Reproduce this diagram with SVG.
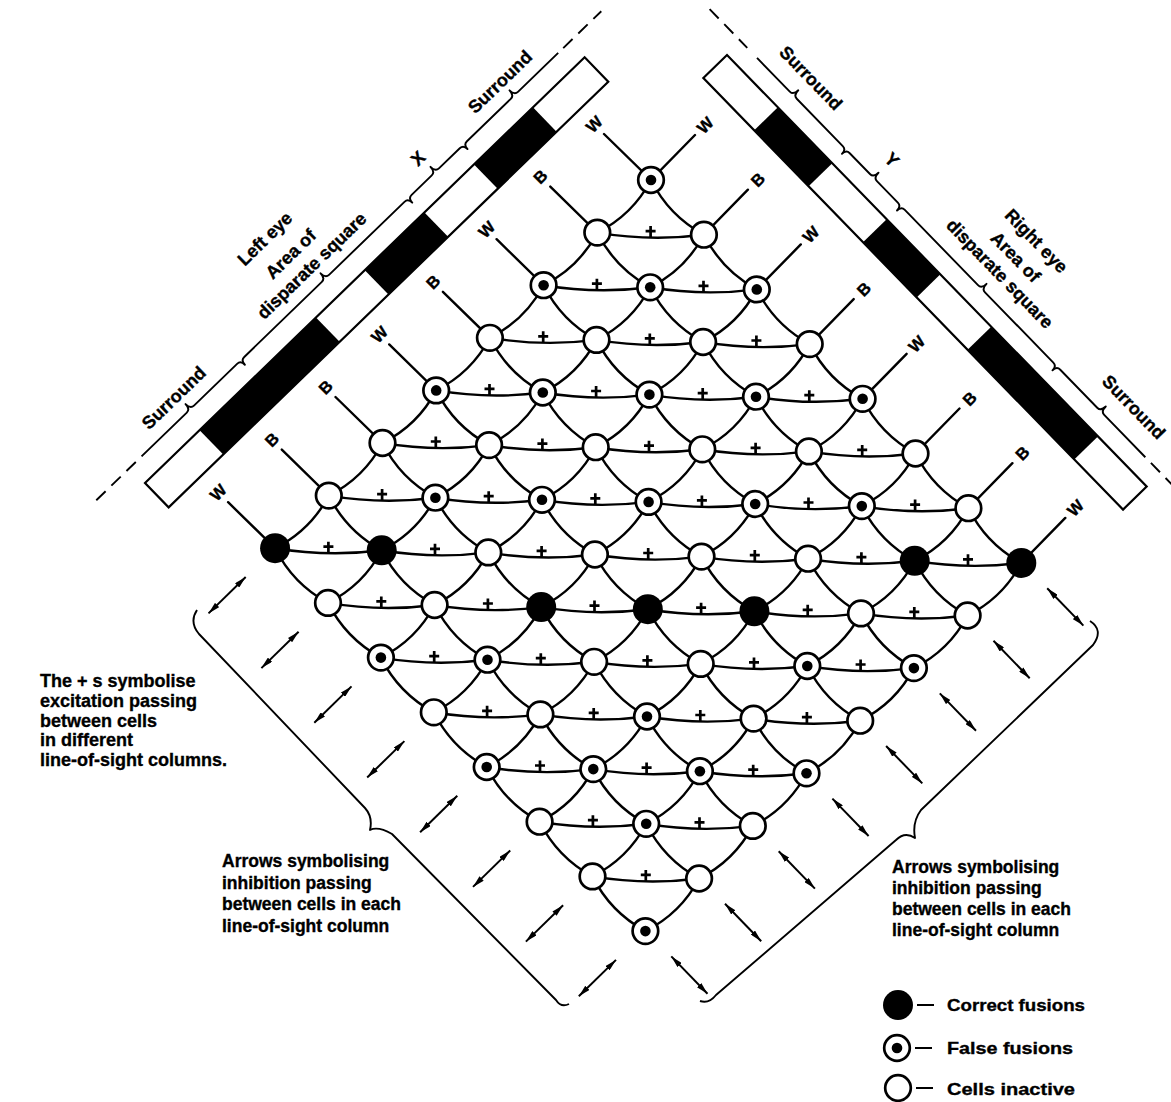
<svg xmlns="http://www.w3.org/2000/svg" xmlns:xlink="http://www.w3.org/1999/xlink" width="1171" height="1102" viewBox="0 0 1171 1102">
<style>
  text{font-family:"Liberation Sans",Arial,Helvetica,sans-serif;font-weight:bold;fill:#000;stroke:#000;stroke-width:0.35}
  .lbl{font-size:16.5px;text-anchor:middle}
  .ann{font-size:18px;text-anchor:middle}
  .note{font-size:17.5px}
  .side{font-size:18px}
  .leg{font-size:16.5px}
  .wire{fill:none;stroke:#000;stroke-width:2.4;stroke-linecap:round}
  .lead{fill:none;stroke:#000;stroke-width:2}
  .ring{fill:#fff;stroke:#000;stroke-width:2.7}
  .dot,.solid{fill:#000}
  .strip{fill:#fff;stroke:#000;stroke-width:2.2}
  .brace{fill:none;stroke:#000;stroke-width:1.9;stroke-linejoin:round}
  .dash{fill:none;stroke:#000;stroke-width:1.9;stroke-dasharray:13 8}
  .arrow{fill:none;stroke:#000;stroke-width:2;marker-start:url(#head);marker-end:url(#head)}
  .plus{fill:none;stroke:#000;stroke-width:2.7}
</style>
<defs>
  <marker id="head" viewBox="0 0 12 6" refX="12" refY="3" markerWidth="12" markerHeight="6" markerUnits="userSpaceOnUse" orient="auto-start-reverse">
    <path d="M0,0 L12,3 L0,6 z"/>
  </marker>
  <!-- excitatory link marker: a cross standing on the link -->
  <path id="plus" class="plus" d="M-5,-6.5 h10 M0,-11.5 V0"/>
</defs>
<rect width="1171" height="1102" fill="#fff"/>

<!-- left eye image strip with braces -->
<g id="left-eye" transform="translate(145,483) rotate(-44.08)">
  <rect class="strip" x="0" y="0" width="612" height="34"/>
  <rect class="solid" x="76" y="0" width="162" height="34"/>
  <rect class="solid" x="306" y="0" width="83" height="34"/>
  <rect class="solid" x="458" y="0" width="82" height="34"/>
  <path class="dash" d="M-47,-21.5 H14 M603,-21.5 H656"/>
  <path class="brace" d="M16,-21.5 L79,-21.5 Q84,-21.5 84,-28.5 Q84,-21.5 89,-21.5 L149,-21.5 Q154,-21.5 154,-15.5 Q154,-21.5 159,-21.5 L267,-21.5 Q272,-21.5 272,-28.5 Q272,-21.5 277,-21.5 L382,-21.5 Q387,-21.5 387,-15.5 Q387,-21.5 392,-21.5 L420,-21.5 Q425,-21.5 425,-28.5 Q425,-21.5 430,-21.5 L459,-21.5 Q464,-21.5 464,-15.5 Q464,-21.5 469,-21.5 L530,-21.5 Q535,-21.5 535,-28.5 Q535,-21.5 540,-21.5 L596,-21.5"/>
  <text class="ann" x="80" y="-35">Surround</text>
  <text class="ann" x="256" y="-86">Left eye</text>
  <text class="ann" x="264" y="-57">Area of</text>
  <text class="ann" x="271" y="-34">disparate square</text>
  <text class="ann" x="422" y="-37">X</text>
  <text class="ann" x="534" y="-35">Surround</text>
</g>

<!-- right eye image strip with braces -->
<g id="right-eye" transform="translate(727,55) rotate(45.8)">
  <rect class="strip" x="0" y="0" width="602" height="33"/>
  <rect class="solid" x="73" y="0" width="78" height="33"/>
  <rect class="solid" x="229" y="0" width="77" height="33"/>
  <rect class="solid" x="379" y="0" width="153" height="33"/>
  <path class="dash" d="M-45,-19.5 H9 M588,-19.5 H640"/>
  <path class="brace" d="M23,-19.5 L70,-19.5 Q75,-19.5 75,-26.5 Q75,-19.5 80,-19.5 L146,-19.5 Q151,-19.5 151,-13.5 Q151,-19.5 156,-19.5 L185,-19.5 Q190,-19.5 190,-26.5 Q190,-19.5 195,-19.5 L225,-19.5 Q230,-19.5 230,-13.5 Q230,-19.5 235,-19.5 L340,-19.5 Q345,-19.5 345,-26.5 Q345,-19.5 350,-19.5 L448,-19.5 Q453,-19.5 453,-13.5 Q453,-19.5 458,-19.5 L511,-19.5 Q516,-19.5 516,-26.5 Q516,-19.5 521,-19.5 L580,-19.5"/>
  <text class="ann" x="75" y="-38">Surround</text>
  <text class="ann" x="190" y="-39">Y</text>
  <text class="ann" x="349" y="-86">Right eye</text>
  <text class="ann" x="346" y="-60">Area of</text>
  <text class="ann" x="347" y="-37">disparate square</text>
  <text class="ann" x="536" y="-40">Surround</text>
</g>

<!-- W / B labels of the line-of-sight columns -->
<g id="column-labels">
  <text class="lbl" x="218.1" y="492.2" dy=".36em" transform="rotate(-45 218.1 492.2)">W</text>
  <text class="lbl" x="271.8" y="439.6" dy=".36em" transform="rotate(-45 271.8 439.6)">B</text>
  <text class="lbl" x="325.5" y="387" dy=".36em" transform="rotate(-45 325.5 387)">B</text>
  <text class="lbl" x="379.2" y="334.4" dy=".36em" transform="rotate(-45 379.2 334.4)">W</text>
  <text class="lbl" x="432.9" y="281.8" dy=".36em" transform="rotate(-45 432.9 281.8)">B</text>
  <text class="lbl" x="486.6" y="229.2" dy=".36em" transform="rotate(-45 486.6 229.2)">W</text>
  <text class="lbl" x="540.3" y="176.6" dy=".36em" transform="rotate(-45 540.3 176.6)">B</text>
  <text class="lbl" x="594" y="124" dy=".36em" transform="rotate(-45 594 124)">W</text>
  <text class="lbl" x="705" y="125" dy=".36em" transform="rotate(-45 705 125)">W</text>
  <text class="lbl" x="757.9" y="179.7" dy=".36em" transform="rotate(-45 757.9 179.7)">B</text>
  <text class="lbl" x="810.8" y="234.4" dy=".36em" transform="rotate(-45 810.8 234.4)">W</text>
  <text class="lbl" x="863.7" y="289.1" dy=".36em" transform="rotate(-45 863.7 289.1)">B</text>
  <text class="lbl" x="916.6" y="343.8" dy=".36em" transform="rotate(-45 916.6 343.8)">W</text>
  <text class="lbl" x="969.5" y="398.5" dy=".36em" transform="rotate(-45 969.5 398.5)">B</text>
  <text class="lbl" x="1022.4" y="453.2" dy=".36em" transform="rotate(-45 1022.4 453.2)">B</text>
  <text class="lbl" x="1075.3" y="507.9" dy=".36em" transform="rotate(-45 1075.3 507.9)">W</text>
</g>

<!-- connectors: line-of-sight columns and excitatory links -->
<g id="connectors">
  <!-- left-eye columns -->
  <path class="wire" d="M228.1,502.2 L275.1,548.2 q17.85,35.65 52.9,54.7 q17.85,35.65 52.9,54.7 q17.85,35.65 52.9,54.7 q17.85,35.65 52.9,54.7 q17.85,35.65 52.9,54.7 q17.85,35.65 52.9,54.7 q17.85,35.65 52.9,54.7"/>
  <path class="wire" d="M281.8,449.6 L328.8,495.6 q17.85,35.65 52.9,54.7 q17.85,35.65 52.9,54.7 q17.85,35.65 52.9,54.7 q17.85,35.65 52.9,54.7 q17.85,35.65 52.9,54.7 q17.85,35.65 52.9,54.7 q17.85,35.65 52.9,54.7"/>
  <path class="wire" d="M335.5,397 L382.5,443 q17.85,35.65 52.9,54.7 q17.85,35.65 52.9,54.7 q17.85,35.65 52.9,54.7 q17.85,35.65 52.9,54.7 q17.85,35.65 52.9,54.7 q17.85,35.65 52.9,54.7 q17.85,35.65 52.9,54.7"/>
  <path class="wire" d="M389.2,344.4 L436.2,390.4 q17.85,35.65 52.9,54.7 q17.85,35.65 52.9,54.7 q17.85,35.65 52.9,54.7 q17.85,35.65 52.9,54.7 q17.85,35.65 52.9,54.7 q17.85,35.65 52.9,54.7 q17.85,35.65 52.9,54.7"/>
  <path class="wire" d="M442.9,291.8 L489.9,337.8 q17.85,35.65 52.9,54.7 q17.85,35.65 52.9,54.7 q17.85,35.65 52.9,54.7 q17.85,35.65 52.9,54.7 q17.85,35.65 52.9,54.7 q17.85,35.65 52.9,54.7 q17.85,35.65 52.9,54.7"/>
  <path class="wire" d="M496.6,239.2 L543.6,285.2 q17.85,35.65 52.9,54.7 q17.85,35.65 52.9,54.7 q17.85,35.65 52.9,54.7 q17.85,35.65 52.9,54.7 q17.85,35.65 52.9,54.7 q17.85,35.65 52.9,54.7 q17.85,35.65 52.9,54.7"/>
  <path class="wire" d="M550.3,186.6 L597.3,232.6 q17.85,35.65 52.9,54.7 q17.85,35.65 52.9,54.7 q17.85,35.65 52.9,54.7 q17.85,35.65 52.9,54.7 q17.85,35.65 52.9,54.7 q17.85,35.65 52.9,54.7 q17.85,35.65 52.9,54.7"/>
  <path class="wire" d="M604,134 L651,180 q17.85,35.65 52.9,54.7 q17.85,35.65 52.9,54.7 q17.85,35.65 52.9,54.7 q17.85,35.65 52.9,54.7 q17.85,35.65 52.9,54.7 q17.85,35.65 52.9,54.7 q17.85,35.65 52.9,54.7"/>
  <!-- right-eye columns -->
  <path class="wire" d="M695,135 L651,180 q-18.45,34.9 -53.7,52.6 q-18.45,34.9 -53.7,52.6 q-18.45,34.9 -53.7,52.6 q-18.45,34.9 -53.7,52.6 q-18.45,34.9 -53.7,52.6 q-18.45,34.9 -53.7,52.6 q-18.45,34.9 -53.7,52.6"/>
  <path class="wire" d="M747.9,189.7 L703.9,234.7 q-18.45,34.9 -53.7,52.6 q-18.45,34.9 -53.7,52.6 q-18.45,34.9 -53.7,52.6 q-18.45,34.9 -53.7,52.6 q-18.45,34.9 -53.7,52.6 q-18.45,34.9 -53.7,52.6 q-18.45,34.9 -53.7,52.6"/>
  <path class="wire" d="M800.8,244.4 L756.8,289.4 q-18.45,34.9 -53.7,52.6 q-18.45,34.9 -53.7,52.6 q-18.45,34.9 -53.7,52.6 q-18.45,34.9 -53.7,52.6 q-18.45,34.9 -53.7,52.6 q-18.45,34.9 -53.7,52.6 q-18.45,34.9 -53.7,52.6"/>
  <path class="wire" d="M853.7,299.1 L809.7,344.1 q-18.45,34.9 -53.7,52.6 q-18.45,34.9 -53.7,52.6 q-18.45,34.9 -53.7,52.6 q-18.45,34.9 -53.7,52.6 q-18.45,34.9 -53.7,52.6 q-18.45,34.9 -53.7,52.6 q-18.45,34.9 -53.7,52.6"/>
  <path class="wire" d="M906.6,353.8 L862.6,398.8 q-18.45,34.9 -53.7,52.6 q-18.45,34.9 -53.7,52.6 q-18.45,34.9 -53.7,52.6 q-18.45,34.9 -53.7,52.6 q-18.45,34.9 -53.7,52.6 q-18.45,34.9 -53.7,52.6 q-18.45,34.9 -53.7,52.6"/>
  <path class="wire" d="M959.5,408.5 L915.5,453.5 q-18.45,34.9 -53.7,52.6 q-18.45,34.9 -53.7,52.6 q-18.45,34.9 -53.7,52.6 q-18.45,34.9 -53.7,52.6 q-18.45,34.9 -53.7,52.6 q-18.45,34.9 -53.7,52.6 q-18.45,34.9 -53.7,52.6"/>
  <path class="wire" d="M1012.4,463.2 L968.4,508.2 q-18.45,34.9 -53.7,52.6 q-18.45,34.9 -53.7,52.6 q-18.45,34.9 -53.7,52.6 q-18.45,34.9 -53.7,52.6 q-18.45,34.9 -53.7,52.6 q-18.45,34.9 -53.7,52.6 q-18.45,34.9 -53.7,52.6"/>
  <path class="wire" d="M1065.3,517.9 L1021.3,562.9 q-18.45,34.9 -53.7,52.6 q-18.45,34.9 -53.7,52.6 q-18.45,34.9 -53.7,52.6 q-18.45,34.9 -53.7,52.6 q-18.45,34.9 -53.7,52.6 q-18.45,34.9 -53.7,52.6 q-18.45,34.9 -53.7,52.6"/>
  <!-- excitatory links between neighbouring cells of one disparity row -->
  <path class="wire" d="M597.3,232.6 q53.3,9.05 106.6,2.1"/>
  <path class="wire" d="M543.6,285.2 q53.3,9.05 106.6,2.1 q53.3,9.05 106.6,2.1"/>
  <path class="wire" d="M489.9,337.8 q53.3,9.05 106.6,2.1 q53.3,9.05 106.6,2.1 q53.3,9.05 106.6,2.1"/>
  <path class="wire" d="M436.2,390.4 q53.3,9.05 106.6,2.1 q53.3,9.05 106.6,2.1 q53.3,9.05 106.6,2.1 q53.3,9.05 106.6,2.1"/>
  <path class="wire" d="M382.5,443 q53.3,9.05 106.6,2.1 q53.3,9.05 106.6,2.1 q53.3,9.05 106.6,2.1 q53.3,9.05 106.6,2.1 q53.3,9.05 106.6,2.1"/>
  <path class="wire" d="M328.8,495.6 q53.3,9.05 106.6,2.1 q53.3,9.05 106.6,2.1 q53.3,9.05 106.6,2.1 q53.3,9.05 106.6,2.1 q53.3,9.05 106.6,2.1 q53.3,9.05 106.6,2.1"/>
  <path class="wire" d="M275.1,548.2 q53.3,9.05 106.6,2.1 q53.3,9.05 106.6,2.1 q53.3,9.05 106.6,2.1 q53.3,9.05 106.6,2.1 q53.3,9.05 106.6,2.1 q53.3,9.05 106.6,2.1 q53.3,9.05 106.6,2.1"/>
  <path class="wire" d="M328,602.9 q53.3,9.05 106.6,2.1 q53.3,9.05 106.6,2.1 q53.3,9.05 106.6,2.1 q53.3,9.05 106.6,2.1 q53.3,9.05 106.6,2.1 q53.3,9.05 106.6,2.1"/>
  <path class="wire" d="M380.9,657.6 q53.3,9.05 106.6,2.1 q53.3,9.05 106.6,2.1 q53.3,9.05 106.6,2.1 q53.3,9.05 106.6,2.1 q53.3,9.05 106.6,2.1"/>
  <path class="wire" d="M433.8,712.3 q53.3,9.05 106.6,2.1 q53.3,9.05 106.6,2.1 q53.3,9.05 106.6,2.1 q53.3,9.05 106.6,2.1"/>
  <path class="wire" d="M486.7,767 q53.3,9.05 106.6,2.1 q53.3,9.05 106.6,2.1 q53.3,9.05 106.6,2.1"/>
  <path class="wire" d="M539.6,821.7 q53.3,9.05 106.6,2.1 q53.3,9.05 106.6,2.1"/>
  <path class="wire" d="M592.5,876.4 q53.3,9.05 106.6,2.1"/>
</g>

<!-- excitation signs on the links -->
<g id="excitation-signs">
  <use href="#plus" x="650.6" y="237.6"/>
  <use href="#plus" x="596.9" y="290.2"/><use href="#plus" x="703.5" y="292.3"/>
  <use href="#plus" x="543.2" y="342.8"/><use href="#plus" x="649.8" y="344.9"/><use href="#plus" x="756.4" y="347"/>
  <use href="#plus" x="489.5" y="395.4"/><use href="#plus" x="596.1" y="397.5"/><use href="#plus" x="702.7" y="399.6"/><use href="#plus" x="809.3" y="401.7"/>
  <use href="#plus" x="435.8" y="448"/><use href="#plus" x="542.4" y="450.1"/><use href="#plus" x="649" y="452.2"/><use href="#plus" x="755.6" y="454.3"/><use href="#plus" x="862.2" y="456.4"/>
  <use href="#plus" x="382.1" y="500.6"/><use href="#plus" x="488.7" y="502.7"/><use href="#plus" x="595.3" y="504.8"/><use href="#plus" x="701.9" y="506.9"/><use href="#plus" x="808.5" y="509"/><use href="#plus" x="915.1" y="511.1"/>
  <use href="#plus" x="328.4" y="553.2"/><use href="#plus" x="435" y="555.3"/><use href="#plus" x="541.6" y="557.4"/><use href="#plus" x="648.2" y="559.5"/><use href="#plus" x="754.8" y="561.6"/><use href="#plus" x="861.4" y="563.7"/><use href="#plus" x="968" y="565.8"/>
  <use href="#plus" x="381.3" y="607.9"/><use href="#plus" x="487.9" y="610"/><use href="#plus" x="594.5" y="612.1"/><use href="#plus" x="701.1" y="614.2"/><use href="#plus" x="807.7" y="616.3"/><use href="#plus" x="914.3" y="618.4"/>
  <use href="#plus" x="434.2" y="662.6"/><use href="#plus" x="540.8" y="664.7"/><use href="#plus" x="647.4" y="666.8"/><use href="#plus" x="754" y="668.9"/><use href="#plus" x="860.6" y="671"/>
  <use href="#plus" x="487.1" y="717.3"/><use href="#plus" x="593.7" y="719.4"/><use href="#plus" x="700.3" y="721.5"/><use href="#plus" x="806.9" y="723.6"/>
  <use href="#plus" x="540" y="772"/><use href="#plus" x="646.6" y="774.1"/><use href="#plus" x="753.2" y="776.2"/>
  <use href="#plus" x="592.9" y="826.7"/><use href="#plus" x="699.5" y="828.8"/>
  <use href="#plus" x="645.8" y="881.4"/>
</g>

<!-- cells: cell-i-j = left column i, right column j -->
<g id="cells">
  <g id="cell-0-0"><circle class="solid" cx="275.1" cy="548.2" r="15"/></g>
  <g id="cell-0-1"><circle class="ring" cx="328" cy="602.9" r="12.8"/></g>
  <g id="cell-0-2"><circle class="ring" cx="380.9" cy="657.6" r="12.8"/><circle class="dot" cx="380.9" cy="657.6" r="5.3"/></g>
  <g id="cell-0-3"><circle class="ring" cx="433.8" cy="712.3" r="12.8"/></g>
  <g id="cell-0-4"><circle class="ring" cx="486.7" cy="767" r="12.8"/><circle class="dot" cx="486.7" cy="767" r="5.3"/></g>
  <g id="cell-0-5"><circle class="ring" cx="539.6" cy="821.7" r="12.8"/></g>
  <g id="cell-0-6"><circle class="ring" cx="592.5" cy="876.4" r="12.8"/></g>
  <g id="cell-0-7"><circle class="ring" cx="645.4" cy="931.1" r="12.8"/><circle class="dot" cx="645.4" cy="931.1" r="5.3"/></g>

  <g id="cell-1-0"><circle class="ring" cx="328.8" cy="495.6" r="12.8"/></g>
  <g id="cell-1-1"><circle class="solid" cx="381.7" cy="550.3" r="15"/></g>
  <g id="cell-1-2"><circle class="ring" cx="434.6" cy="605" r="12.8"/></g>
  <g id="cell-1-3"><circle class="ring" cx="487.5" cy="659.7" r="12.8"/><circle class="dot" cx="487.5" cy="659.7" r="5.3"/></g>
  <g id="cell-1-4"><circle class="ring" cx="540.4" cy="714.4" r="12.8"/></g>
  <g id="cell-1-5"><circle class="ring" cx="593.3" cy="769.1" r="12.8"/><circle class="dot" cx="593.3" cy="769.1" r="5.3"/></g>
  <g id="cell-1-6"><circle class="ring" cx="646.2" cy="823.8" r="12.8"/><circle class="dot" cx="646.2" cy="823.8" r="5.3"/></g>
  <g id="cell-1-7"><circle class="ring" cx="699.1" cy="878.5" r="12.8"/></g>

  <g id="cell-2-0"><circle class="ring" cx="382.5" cy="443" r="12.8"/></g>
  <g id="cell-2-1"><circle class="ring" cx="435.4" cy="497.7" r="12.8"/><circle class="dot" cx="435.4" cy="497.7" r="5.3"/></g>
  <g id="cell-2-2"><circle class="ring" cx="488.3" cy="552.4" r="12.8"/></g>
  <g id="cell-2-3"><circle class="solid" cx="541.2" cy="607.1" r="15"/></g>
  <g id="cell-2-4"><circle class="ring" cx="594.1" cy="661.8" r="12.8"/></g>
  <g id="cell-2-5"><circle class="ring" cx="647" cy="716.5" r="12.8"/><circle class="dot" cx="647" cy="716.5" r="5.3"/></g>
  <g id="cell-2-6"><circle class="ring" cx="699.9" cy="771.2" r="12.8"/><circle class="dot" cx="699.9" cy="771.2" r="5.3"/></g>
  <g id="cell-2-7"><circle class="ring" cx="752.8" cy="825.9" r="12.8"/></g>

  <g id="cell-3-0"><circle class="ring" cx="436.2" cy="390.4" r="12.8"/><circle class="dot" cx="436.2" cy="390.4" r="5.3"/></g>
  <g id="cell-3-1"><circle class="ring" cx="489.1" cy="445.1" r="12.8"/></g>
  <g id="cell-3-2"><circle class="ring" cx="542" cy="499.8" r="12.8"/><circle class="dot" cx="542" cy="499.8" r="5.3"/></g>
  <g id="cell-3-3"><circle class="ring" cx="594.9" cy="554.5" r="12.8"/></g>
  <g id="cell-3-4"><circle class="solid" cx="647.8" cy="609.2" r="15"/></g>
  <g id="cell-3-5"><circle class="ring" cx="700.7" cy="663.9" r="12.8"/></g>
  <g id="cell-3-6"><circle class="ring" cx="753.6" cy="718.6" r="12.8"/></g>
  <g id="cell-3-7"><circle class="ring" cx="806.5" cy="773.3" r="12.8"/><circle class="dot" cx="806.5" cy="773.3" r="5.3"/></g>

  <g id="cell-4-0"><circle class="ring" cx="489.9" cy="337.8" r="12.8"/></g>
  <g id="cell-4-1"><circle class="ring" cx="542.8" cy="392.5" r="12.8"/><circle class="dot" cx="542.8" cy="392.5" r="5.3"/></g>
  <g id="cell-4-2"><circle class="ring" cx="595.7" cy="447.2" r="12.8"/></g>
  <g id="cell-4-3"><circle class="ring" cx="648.6" cy="501.9" r="12.8"/><circle class="dot" cx="648.6" cy="501.9" r="5.3"/></g>
  <g id="cell-4-4"><circle class="ring" cx="701.5" cy="556.6" r="12.8"/></g>
  <g id="cell-4-5"><circle class="solid" cx="754.4" cy="611.3" r="15"/></g>
  <g id="cell-4-6"><circle class="ring" cx="807.3" cy="666" r="12.8"/><circle class="dot" cx="807.3" cy="666" r="5.3"/></g>
  <g id="cell-4-7"><circle class="ring" cx="860.2" cy="720.7" r="12.8"/></g>

  <g id="cell-5-0"><circle class="ring" cx="543.6" cy="285.2" r="12.8"/><circle class="dot" cx="543.6" cy="285.2" r="5.3"/></g>
  <g id="cell-5-1"><circle class="ring" cx="596.5" cy="339.9" r="12.8"/></g>
  <g id="cell-5-2"><circle class="ring" cx="649.4" cy="394.6" r="12.8"/><circle class="dot" cx="649.4" cy="394.6" r="5.3"/></g>
  <g id="cell-5-3"><circle class="ring" cx="702.3" cy="449.3" r="12.8"/></g>
  <g id="cell-5-4"><circle class="ring" cx="755.2" cy="504" r="12.8"/><circle class="dot" cx="755.2" cy="504" r="5.3"/></g>
  <g id="cell-5-5"><circle class="ring" cx="808.1" cy="558.7" r="12.8"/></g>
  <g id="cell-5-6"><circle class="ring" cx="861" cy="613.4" r="12.8"/></g>
  <g id="cell-5-7"><circle class="ring" cx="913.9" cy="668.1" r="12.8"/><circle class="dot" cx="913.9" cy="668.1" r="5.3"/></g>

  <g id="cell-6-0"><circle class="ring" cx="597.3" cy="232.6" r="12.8"/></g>
  <g id="cell-6-1"><circle class="ring" cx="650.2" cy="287.3" r="12.8"/><circle class="dot" cx="650.2" cy="287.3" r="5.3"/></g>
  <g id="cell-6-2"><circle class="ring" cx="703.1" cy="342" r="12.8"/></g>
  <g id="cell-6-3"><circle class="ring" cx="756" cy="396.7" r="12.8"/><circle class="dot" cx="756" cy="396.7" r="5.3"/></g>
  <g id="cell-6-4"><circle class="ring" cx="808.9" cy="451.4" r="12.8"/></g>
  <g id="cell-6-5"><circle class="ring" cx="861.8" cy="506.1" r="12.8"/><circle class="dot" cx="861.8" cy="506.1" r="5.3"/></g>
  <g id="cell-6-6"><circle class="solid" cx="914.7" cy="560.8" r="15"/></g>
  <g id="cell-6-7"><circle class="ring" cx="967.6" cy="615.5" r="12.8"/></g>

  <g id="cell-7-0"><circle class="ring" cx="651" cy="180" r="12.8"/><circle class="dot" cx="651" cy="180" r="5.3"/></g>
  <g id="cell-7-1"><circle class="ring" cx="703.9" cy="234.7" r="12.8"/></g>
  <g id="cell-7-2"><circle class="ring" cx="756.8" cy="289.4" r="12.8"/><circle class="dot" cx="756.8" cy="289.4" r="5.3"/></g>
  <g id="cell-7-3"><circle class="ring" cx="809.7" cy="344.1" r="12.8"/></g>
  <g id="cell-7-4"><circle class="ring" cx="862.6" cy="398.8" r="12.8"/><circle class="dot" cx="862.6" cy="398.8" r="5.3"/></g>
  <g id="cell-7-5"><circle class="ring" cx="915.5" cy="453.5" r="12.8"/></g>
  <g id="cell-7-6"><circle class="ring" cx="968.4" cy="508.2" r="12.8"/></g>
  <g id="cell-7-7"><circle class="solid" cx="1021.3" cy="562.9" r="15"/></g>
</g>

<!-- inhibition arrows along each column -->
<g id="inhibition-arrows">
  <path class="arrow" d="M245.7,577 L208.5,613.4"/>
  <path class="arrow" d="M298.6,631.7 L261.4,668.1"/>
  <path class="arrow" d="M351.5,686.4 L314.3,722.8"/>
  <path class="arrow" d="M404.4,741.1 L367.2,777.5"/>
  <path class="arrow" d="M457.3,795.8 L420.1,832.2"/>
  <path class="arrow" d="M510.2,850.5 L473,886.9"/>
  <path class="arrow" d="M563.1,905.2 L525.9,941.6"/>
  <path class="arrow" d="M616,959.9 L578.8,996.3"/>
  <path class="arrow" d="M1047.2,588.2 L1083.4,625.6"/>
  <path class="arrow" d="M993.5,640.8 L1029.7,678.2"/>
  <path class="arrow" d="M939.8,693.4 L976,730.8"/>
  <path class="arrow" d="M886.1,746 L922.3,783.4"/>
  <path class="arrow" d="M832.4,798.6 L868.6,836"/>
  <path class="arrow" d="M778.7,851.2 L814.9,888.6"/>
  <path class="arrow" d="M725,903.8 L761.2,941.2"/>
  <path class="arrow" d="M671.3,956.4 L707.5,993.8"/>
  <path class="brace" d="M197,610 Q189,622 199,634 L365,808 Q373,817 370,830 Q378,826 392,834 L556,1000 Q561,1008 569,1004"/>
  <path class="brace" d="M1090,621 Q1104,630 1093,645 L921,810 Q912,822 915,838 Q905,831 896,840 L716,995 Q709,1004 700,1001"/>
</g>

<!-- explanatory notes -->
<g id="notes">
  <text class="side" x="40" y="687">The + s symbolise</text>
  <text class="side" x="40" y="706.7">excitation passing</text>
  <text class="side" x="40" y="726.5">between cells</text>
  <text class="side" x="40" y="746.2">in different</text>
  <text class="side" x="40" y="766">line-of-sight columns.</text>

  <text class="note" x="222" y="867">Arrows symbolising</text>
  <text class="note" x="222" y="888.5">inhibition passing</text>
  <text class="note" x="222" y="910">between cells in each</text>
  <text class="note" x="222" y="931.5">line-of-sight column</text>

  <text class="note" x="892" y="873">Arrows symbolising</text>
  <text class="note" x="892" y="894">inhibition passing</text>
  <text class="note" x="892" y="915">between cells in each</text>
  <text class="note" x="892" y="936">line-of-sight column</text>
</g>

<!-- key -->
<g id="legend">
  <circle class="solid" cx="898" cy="1005" r="15"/>
  <circle class="ring" cx="897" cy="1048" r="12.8"/><circle class="dot" cx="897" cy="1048" r="5.3"/>
  <circle class="ring" cx="898" cy="1088" r="12.8"/>
  <path class="lead" d="M917,1005 H934 M915,1048 H932 M916,1088 H933"/>
  <text class="leg" x="947" y="1011" textLength="138" lengthAdjust="spacingAndGlyphs">Correct fusions</text>
  <text class="leg" x="947" y="1054" textLength="126" lengthAdjust="spacingAndGlyphs">False fusions</text>
  <text class="leg" x="947" y="1095" textLength="128" lengthAdjust="spacingAndGlyphs">Cells inactive</text>
</g>
</svg>
